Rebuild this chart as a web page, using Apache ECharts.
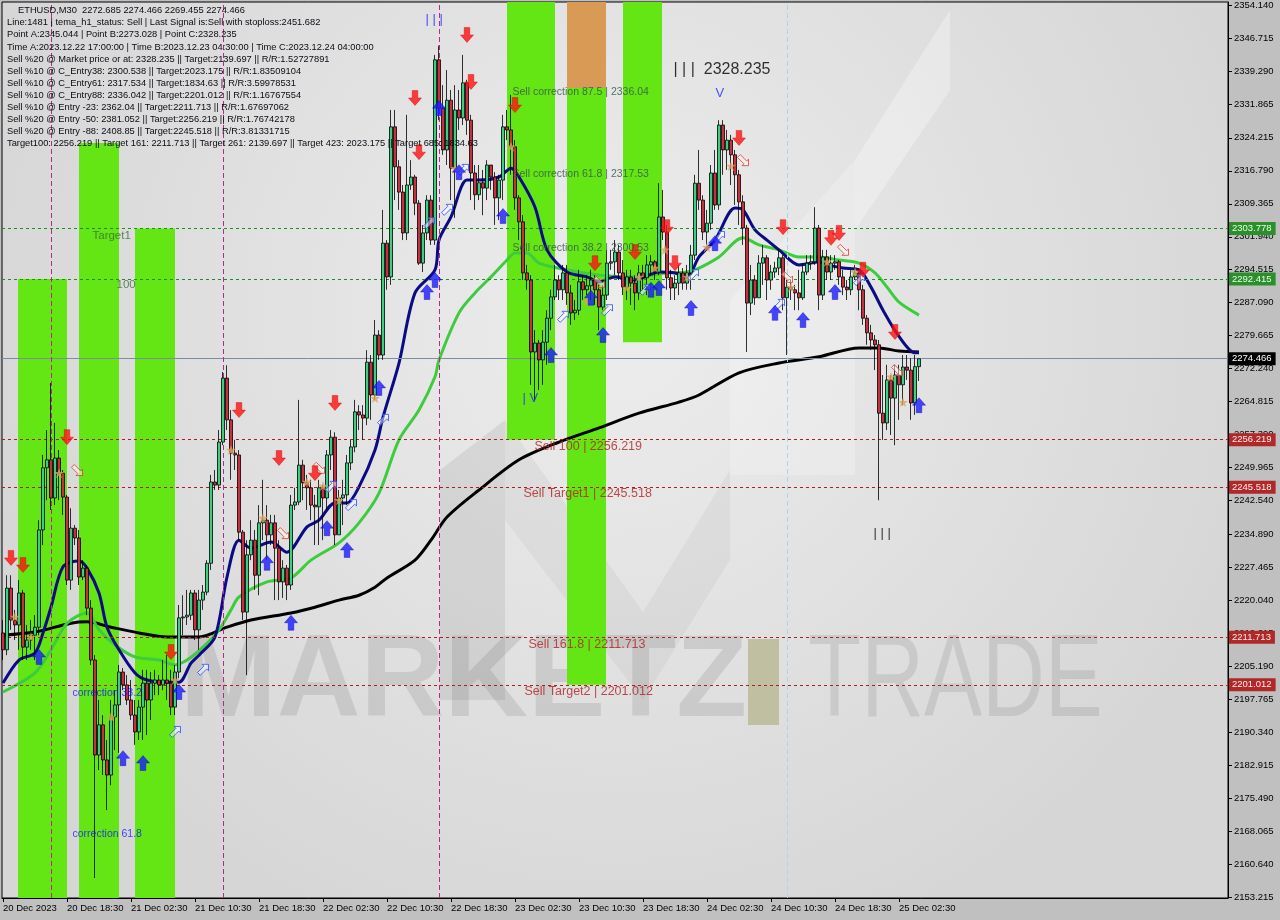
<!DOCTYPE html>
<html><head><meta charset="utf-8">
<script src="https://cdn.jsdelivr.net/npm/echarts@6/dist/echarts.min.js"></script>
<style>html,body{margin:0;padding:0;background:#c0c0c0}#c{width:1280px;height:920px}</style>
</head><body><div id="c"></div>
<script>
// ---------- DATA ----------
const firstOpen = 2212.7;
const closes = [2208.9,2222.8,2215.6,2214.5,2221.7,2209.5,2211.1,2212.2,2214.0,2235.9,
2249.9,2251.7,2243.1,2252.1,2248.7,2243.3,2224.6,2236.3,2234.1,2225.3,
2227.3,2218.3,2206.6,2185.2,2192.0,2184.1,2180.7,2193.8,2196.5,2203.9,
2201.0,2197.6,2194.2,2190.4,2196.0,2201.4,2197.6,2201.4,2202.1,2201.0,
2202.1,2201.4,2196.0,2203.9,2216.1,2216.3,2216.7,2221.7,2213.4,2220.1,
2221.9,2228.4,2246.7,2246.0,2255.7,2270.1,2260.7,2253.2,2252.8,2235.4,
2217.4,2230.3,2233.6,2225.7,2237.5,2238.1,2234.8,2237.5,2231.8,2224.2,
2227.3,2223.5,2241.5,2242.2,2250.5,2246.5,2245.4,2241.5,2241.1,2245.4,
2243.1,2252.8,2256.8,2234.8,2243.1,2243.8,2251.0,2254.6,2262.5,2261.8,
2261.1,2273.7,2266.3,2279.8,2275.3,2300.5,2292.9,2326.7,2317.7,2312.0,
2302.8,2313.6,2315.4,2309.5,2296.0,2302.8,2310.2,2301.2,2341.8,2330.9,
2321.5,2332.7,2317.4,2330.5,2328.7,2336.6,2328.2,2316.3,2311.4,2314.1,
2312.9,2318.1,2315.4,2310.7,2314.7,2326.7,2326.0,2322.2,2310.7,2305.3,
2293.8,2292.2,2276.0,2278.0,2274.2,2278.2,2283.6,2288.4,2292.2,2290.0,
2293.8,2289.3,2284.8,2285.4,2291.8,2290.0,2290.9,2292.2,2290.0,2286.1,
2288.8,2296.0,2296.3,2298.5,2293.8,2290.6,2292.9,2291.5,2289.3,2293.8,
2292.7,2295.6,2296.3,2294.0,2306.4,2303.0,2292.7,2290.4,2291.5,2293.8,
2291.5,2293.8,2297.8,2314.0,2310.2,2303.0,2305.0,2316.3,2309.1,2327.1,
2321.5,2323.7,2320.4,2315.9,2309.8,2303.9,2287.0,2292.2,2288.2,2296.0,
2297.2,2292.2,2294.0,2294.9,2297.2,2288.2,2290.6,2290.0,2289.3,2288.2,
2294.0,2296.0,2296.3,2303.9,2288.8,2297.4,2294.0,2296.0,2296.3,2292.9,
2290.6,2290.0,2292.9,2293.8,2290.0,2283.6,2280.3,2278.7,2277.6,2262.2,
2260.0,2269.7,2265.6,2270.8,2268.6,2272.6,2271.9,2264.5,2272.685,2274.466];
const highs = [2215.6,2225.7,2225.7,2217.9,2224.6,2222.4,2214.5,2215.6,2216.7,2238.1,
2252.8,2258.4,2269.0,2260.0,2253.9,2249.4,2243.8,2240.8,2237.0,2235.9,
2229.1,2228.0,2220.1,2207.7,2197.6,2194.2,2188.6,2197.6,2199.8,2205.5,
2204.8,2203.2,2202.1,2197.6,2197.6,2204.4,2204.4,2203.9,2204.4,2203.2,
2206.6,2207.7,2204.4,2205.5,2219.0,2221.2,2222.4,2222.4,2222.4,2222.4,
2223.5,2229.1,2248.3,2249.4,2258.4,2271.5,2273.0,2262.9,2256.2,2253.9,
2235.9,2233.6,2238.1,2235.9,2241.5,2247.2,2241.5,2239.3,2239.3,2233.6,
2229.1,2228.0,2243.8,2245.4,2265.2,2251.7,2248.3,2247.2,2243.8,2247.2,
2246.0,2253.9,2258.4,2257.9,2244.9,2247.2,2252.8,2256.2,2265.2,2264.0,
2264.0,2276.4,2275.3,2283.2,2280.9,2308.0,2301.2,2330.5,2330.5,2319.2,
2313.6,2329.4,2319.2,2315.9,2310.2,2304.6,2311.3,2311.3,2342.9,2345.0,
2336.1,2339.5,2335.0,2336.1,2335.0,2342.9,2337.3,2329.4,2318.1,2318.1,
2317.0,2319.2,2318.1,2316.5,2315.9,2329.4,2330.5,2333.9,2323.7,2311.3,
2306.8,2295.6,2293.3,2280.9,2278.7,2280.9,2285.4,2290.0,2295.6,2293.3,
2295.6,2295.6,2291.1,2287.7,2294.5,2293.3,2293.3,2294.5,2293.3,2291.1,
2291.1,2299.0,2299.0,2301.2,2300.1,2296.7,2294.5,2294.5,2293.3,2295.6,
2295.6,2297.8,2297.8,2296.7,2314.0,2312.5,2304.6,2294.5,2293.3,2295.6,
2294.9,2295.6,2300.1,2315.9,2321.5,2311.3,2308.0,2318.1,2321.5,2328.2,
2328.2,2326.0,2324.9,2321.5,2317.0,2311.3,2304.6,2295.6,2293.3,2297.8,
2300.1,2297.8,2295.6,2296.3,2299.0,2297.8,2292.2,2292.2,2291.1,2294.5,
2295.6,2297.8,2297.8,2308.6,2304.6,2299.0,2299.0,2297.8,2297.8,2296.7,
2294.5,2292.2,2294.5,2295.6,2294.9,2291.1,2284.3,2282.1,2279.8,2278.7,
2270.8,2273.1,2270.8,2273.1,2273.1,2275.3,2275.3,2274.6,2275.3,2274.466];
const lows = [2206.6,2207.7,2213.4,2211.1,2208.9,2206.6,2206.6,2208.9,2206.6,2212.2,
2232.5,2242.6,2240.4,2241.5,2242.6,2239.3,2223.5,2222.4,2232.5,2223.5,
2224.6,2216.7,2205.5,2157.5,2181.8,2180.7,2172.8,2178.4,2186.3,2185.7,
2199.8,2196.5,2193.1,2187.5,2188.6,2188.6,2189.7,2193.1,2198.7,2198.7,
2199.8,2197.6,2194.2,2194.2,2202.5,2212.2,2214.5,2215.6,2211.1,2208.9,
2217.9,2221.2,2226.9,2244.9,2244.9,2255.0,2258.4,2247.2,2249.4,2233.6,
2215.6,2203.2,2229.1,2222.4,2221.2,2233.6,2229.1,2232.5,2220.1,2220.1,
2220.6,2220.1,2222.4,2240.4,2241.5,2242.6,2240.4,2238.1,2232.5,2232.5,
2233.6,2240.4,2249.4,2232.5,2234.8,2237.0,2241.5,2249.4,2253.4,2258.4,
2256.2,2259.5,2260.7,2265.2,2274.2,2274.2,2290.0,2291.1,2310.2,2308.0,
2301.2,2301.2,2312.5,2306.8,2295.6,2294.0,2301.2,2300.1,2300.1,2328.2,
2320.4,2318.1,2310.2,2306.2,2326.0,2327.1,2324.9,2310.2,2308.0,2310.2,
2306.8,2310.2,2312.5,2304.6,2305.7,2310.2,2323.7,2315.9,2308.0,2301.2,
2292.2,2290.0,2268.6,2265.2,2267.4,2268.6,2273.1,2280.9,2287.7,2287.7,
2287.7,2286.6,2282.1,2283.2,2284.3,2287.7,2288.8,2287.7,2286.6,2280.9,
2285.4,2287.7,2294.5,2293.3,2292.2,2288.8,2287.7,2286.6,2285.4,2287.7,
2290.0,2288.8,2293.3,2292.2,2293.3,2301.2,2290.0,2287.7,2287.7,2288.8,
2290.0,2290.0,2290.0,2296.7,2308.0,2301.2,2300.1,2303.5,2308.0,2308.0,
2315.9,2317.0,2313.6,2309.1,2304.6,2300.1,2276.0,2284.3,2286.6,2291.5,
2291.1,2287.7,2290.0,2292.7,2293.3,2285.4,2275.3,2287.7,2285.4,2285.4,
2287.7,2293.3,2294.5,2295.6,2285.4,2287.7,2292.2,2292.2,2294.5,2291.1,
2288.8,2287.7,2288.8,2292.2,2285.4,2282.1,2277.6,2276.4,2271.9,2242.6,
2256.2,2258.4,2257.3,2255.0,2260.7,2264.0,2269.7,2260.7,2261.8,2269.455];

// moving averages (bar index, price)
const maBlackBars = [0,8,17,21,27,34,41,49,56,62,72,78,84,89,93,96,103,107,111,119,129,139,149,159,169,174,184,194,204,214,219,224,229];
const maBlackVals = [2212.2,2212.9,2214.9,2215.2,2214.0,2212.7,2211.8,2211.8,2214.0,2215.6,2217.2,2218.5,2220.1,2221.2,2223.0,2225.1,2229.1,2233.6,2238.8,2244.9,2251.7,2255.7,2258.9,2262.2,2264.7,2266.3,2271.3,2273.5,2274.9,2276.9,2276.9,2276.2,2276.0];
const maGreenBars = [0,8,12,16,21,24,28,33,39,43,46,50,54,57,59,66,72,77,84,89,94,99,104,108,109,114,118,122,126,128,131,134,141,149,158,166,171,174,179,185,189,194,199,204,209,214,218,221,224,229];
const maGreenVals = [2199.4,2203.7,2208.9,2214.9,2217.2,2213.4,2210.0,2207.3,2206.6,2205.5,2206.6,2209.5,2213.4,2217.9,2220.8,2224.2,2225.1,2229.1,2233.0,2237.5,2244.2,2256.2,2262.9,2270.4,2274.2,2284.8,2289.3,2292.9,2296.7,2298.3,2298.3,2296.0,2294.5,2293.3,2292.9,2293.8,2294.0,2294.9,2297.4,2301.7,2300.1,2299.0,2297.4,2297.4,2296.7,2296.0,2293.8,2290.6,2287.2,2284.3];
const maBlueBars = [0,4,8,10,12,15,19,21,24,26,29,33,36,41,44,47,49,53,56,59,62,67,71,76,79,83,86,89,93,95,99,103,108,109,112,116,119,124,127,129,133,136,141,146,149,153,158,164,168,171,174,178,183,185,188,191,194,199,202,204,206,210,214,217,220,224,228,229];
const maBlueVals = [2201.4,2206.6,2208.2,2212.7,2218.5,2227.6,2228.9,2227.3,2221.7,2214.0,2208.9,2203.7,2202.1,2201.6,2201.6,2205.9,2207.7,2211.8,2225.3,2233.6,2231.8,2233.2,2230.9,2236.6,2238.1,2242.0,2242.0,2245.6,2253.9,2261.3,2273.5,2289.3,2294.5,2301.2,2306.4,2314.7,2314.7,2315.4,2317.4,2315.4,2308.6,2299.0,2294.0,2292.9,2291.8,2292.9,2292.2,2294.0,2293.8,2292.9,2297.4,2301.2,2308.4,2308.0,2303.5,2301.2,2299.0,2295.6,2296.0,2296.3,2295.6,2294.9,2294.5,2290.6,2285.4,2279.5,2275.8,2275.8];

// axis ticks
const xTickBars = [0,16,32,48,64,80,96,112,128,144,160,176,192,208,224];
const xTickLabels = ['20 Dec 2023','20 Dec 18:30','21 Dec 02:30','21 Dec 10:30','21 Dec 18:30','22 Dec 02:30','22 Dec 10:30','22 Dec 18:30','23 Dec 02:30','23 Dec 10:30','23 Dec 18:30','24 Dec 02:30','24 Dec 10:30','24 Dec 18:30','25 Dec 02:30'];
const yTickValues = [2354.140,2346.715,2339.290,2331.865,2324.215,2316.790,2309.365,2301.940,2294.515,2287.090,2279.665,2272.240,2264.815,2257.390,2249.965,2242.540,2234.890,2227.465,2220.040,2212.615,2205.190,2197.765,2190.340,2182.915,2175.490,2168.065,2160.640,2153.215];
const yMin = 2153.0, yMax = 2354.82;

// horizontal levels
const greenLevels = [2303.778, 2292.415];
const redLevels = [2256.219, 2245.518, 2211.713, 2201.012];
const lastPrice = 2274.466;
const vLinesMagenta = [12, 55, 109];
const vLinesCyan = [196];

// zones: [barFrom, barTo, priceTop, priceBottom]
const greenZones = [[3.75,16,2292.415,yMin],[19,29,2323.06,yMin],[33,43,2303.778,yMin],
  [126,138,yMax,2256.219],[141,150.75,2335.45,2201.012],[155,164.75,yMax,2278.2]];
const orangeZones = [[141,150.75,yMax,2335.45]];

// signals [bar, price]
const sellArrows = [[2,2229.6],[5,2228.0],[16,2256.8],[42,2208.4],[59,2262.9],[69,2252.1],[78,2248.7],[83,2264.5],[103,2333.2],[104,2321.0],[116,2347.4],[117,2336.8],[128,2331.6],[148,2296.0],[158,2298.5],[166,2304.1],[168,2296.0],[184,2324.2],[195,2304.1],[207,2301.7],[209,2302.8],[215,2294.5],[223,2280.5]];
const buyArrows = [[9,2207.3],[30,2184.5],[35,2183.4],[44,2199.4],[66,2228.5],[72,2215.0],[81,2236.3],[86,2231.4],[94,2267.9],[106,2289.5],[108,2292.2],[109,2330.9],[114,2316.5],[125,2306.6],[137,2275.3],[147,2288.2],[150,2279.8],[162,2290.0],[164,2290.4],[172,2285.9],[178,2300.5],[193,2284.8],[200,2283.2],[208,2289.5],[229,2264.0]];
const stars = [[3,2216.3],[7,2211.8],[14,2248.7],[27,2193.8],[43,2202.1],[57,2253.9],[65,2238.6],[76,2246.7],[80,2245.8],[84,2242.6],[93,2265.6],[113,2317.4],[127,2322.2],[146,2287.3],[156,2290.4],[159,2292.9],[163,2294.9],[165.5,2299.0],[171,2292.9],[176,2299.6],[182,2317.9],[197,2290.6],[206,2296.3],[213,2294.0],[222,2270.4],[225,2264.7]];
const hollowSell = [[18.5,2249.4],[70,2235.2],[79,2249.9],[149,2291.8],[185,2319.2],[196,2292.9],[210,2299.0],[223.5,2271.9]];
const hollowBuy = [[43,2190.4],[50,2204.4],[82,2245.6],[87,2241.5],[95,2260.7],[106.5,2305.0],[111,2308.0],[115,2317.0],[140,2283.9],[151,2285.4],[160.5,2290.0],[172.5,2293.3],[179,2301.9],[194,2286.6],[214,2292.2]];

// chart texts
const chartTexts = ['Sell correction 87.5 | 2336.04','Sell correction 61.8 | 2317.53','Sell correction 38.2 | 2300.53',
  'Sell 100 | 2256.219','Sell Target1 | 2245.518','Sell 161.8 | 2211.713','Sell Target2 | 2201.012',
  'Target1','100','correction 38.2','correction 61.8','| | |  2328.235','V','| | |','| V','| | |'];
const chartTextBars = [127.25,127.25,127.25,132.75,130,131.25,130.25,22.25,28.25,17.25,17.25,167.5,178,105.5,129.75,217.5];
const chartTextPrices = [2334.55,2316.1,2299.4,2254.6,2244.0,2210.2,2199.4,2302.1,2291.1,2199.2,2167.4,2339.7,2334.3,2350.8,2265.6,2235.2];

const headerLines = ['ETHUSD,M30  2272.685 2274.466 2269.455 2274.466',
'Line:1481 | tema_h1_status: Sell | Last Signal is:Sell with stoploss:2451.682',
'Point A:2345.044 | Point B:2273.028 | Point C:2328.235',
'Time A:2023.12.22 17:00:00 | Time B:2023.12.23 04:30:00 | Time C:2023.12.24 04:00:00',
'Sell %20 @ Market price or at: 2328.235 || Target:2139.697 || R/R:1.52727891',
'Sell %10 @ C_Entry38: 2300.538 || Target:2023.175 || R/R:1.83509104',
'Sell %10 @ C_Entry61: 2317.534 || Target:1834.63 || R/R:3.59978531',
'Sell %10 @ C_Entry88: 2336.042 || Target:2201.012 || R/R:1.16767554',
'Sell %10 @ Entry -23: 2362.04 || Target:2211.713 || R/R:1.67697062',
'Sell %20 @ Entry -50: 2381.052 || Target:2256.219 || R/R:1.76742178',
'Sell %20 @ Entry -88: 2408.85 || Target:2245.518 || R/R:3.81331715',
'Target100: 2256.219 || Target 161: 2211.713 || Target 261: 2139.697 || Target 423: 2023.175 || Target 685: 1834.63'];

// ---------- BUILD ----------
const FONT = 'Liberation Sans';
const candles = closes.map((c, i) => {
  const o = i === 0 ? firstOpen : closes[i - 1];
  return [i, o, c, Math.min(lows[i], o, c), Math.max(highs[i], o, c)];
});
const pairs = (b, v) => b.map((x, k) => [x, v[k]]);

const textStyles = [
  ['#34504a',10.5],['#34504a',10.5],['#34504a',10.5],
  ['#b22222',12.5],['#b22222',12.5],['#b22222',12.5],['#b22222',12.5],
  ['#3c6a3c',11.5],['#3c6a3c',11.5],['#1414ff',10.5],['#1414ff',10.5],
  ['#000000',16],['#2626ff',13],['#2626ff',13],['#2626ff',13],['#000000',13]];

const ARROW_DOWN = 'path://M4,0L10,0L10,8L14,8L7,16L0,8L4,8Z';
const ARROW_UP = 'path://M7,0L14,8L10,8L10,16L4,16L4,8L0,8Z';
const STAR = 'path://M5,0L6.2,3.8L10,3.8L7,6.2L8.1,10L5,7.6L1.9,10L3,6.2L0,3.8L3.8,3.8Z';
const HOLLOW = 'path://M3,0L10,7L12,5L12,12L5,12L7,10L0,3Z';

const hLineData = [];
greenLevels.forEach(v => hLineData.push({yAxis: v,
  lineStyle: {color: '#1f8f1f', type: [3, 3], width: 1},
  label: {show: true, position: 'end', distance: 1, formatter: v.toFixed(3), backgroundColor: '#2b8f2b', color: '#e6ffe6', padding: [2, 4, 1, 3], fontSize: 9.5, fontFamily: FONT}}));
redLevels.forEach(v => hLineData.push({yAxis: v,
  lineStyle: {color: '#a82020', type: [3, 3], width: 1},
  label: {show: true, position: 'end', distance: 1, formatter: v.toFixed(3), backgroundColor: '#b02828', color: '#ffecec', padding: [2, 4, 1, 3], fontSize: 9.5, fontFamily: FONT}}));
hLineData.push({yAxis: lastPrice,
  lineStyle: {color: '#7d8da0', type: 'solid', width: 1},
  label: {show: true, position: 'end', distance: 1, formatter: lastPrice.toFixed(3), backgroundColor: '#000', color: '#fff', padding: [2, 4, 1, 3], fontSize: 9.5, fontFamily: FONT}});
vLinesMagenta.forEach(b => hLineData.push({xAxis: b, lineStyle: {color: '#b8288a', type: [5, 3], width: 1}, label: {show: false}}));
vLinesCyan.forEach(b => hLineData.push({xAxis: b, lineStyle: {color: '#a8d8e0', type: [5, 3], width: 1}, label: {show: false}}));

const zoneData = [];
greenZones.forEach(z => zoneData.push([{xAxis: z[0], yAxis: z[2], itemStyle: {color: '#64e614'}}, {xAxis: z[1], yAxis: z[3]}]));
orangeZones.forEach(z => zoneData.push([{xAxis: z[0], yAxis: z[2], itemStyle: {color: '#d99a55'}}, {xAxis: z[1], yAxis: z[3]}]));

const graphics = [];
// faint logo shapes
graphics.push({type: 'polygon', z: 1, silent: true, shape: {points: [[440,470],[505,420],[505,700],[440,700]]}, style: {fill: 'rgba(0,0,0,0.07)'}});
graphics.push({type: 'polygon', z: 1, silent: true, shape: {points: [[505,420],[643,612],[730,470],[730,560],[643,700],[505,520]]}, style: {fill: 'rgba(0,0,0,0.04)'}});
graphics.push({type: 'polygon', z: 1, silent: true, shape: {points: [[730,300],[855,160],[855,475],[730,475]]}, style: {fill: 'rgba(255,255,255,0.22)'}});
graphics.push({type: 'polygon', z: 1, silent: true, shape: {points: [[855,160],[950,10],[950,90],[855,230]]}, style: {fill: 'rgba(255,255,255,0.3)'}});
// watermark text
graphics.push({type: 'text', z: 1, silent: true, x: 180, y: 684, style: {text: 'MARKETZ', font: 'bold 116px "Liberation Sans"', fill: 'rgba(60,60,60,0.13)', verticalAlign: 'middle', align: 'left'}});
graphics.push({type: 'rect', z: 1, silent: true, shape: {x: 748, y: 639, width: 31, height: 86}, style: {fill: '#c0bfa2'}});
graphics.push({type: 'text', z: 1, silent: true, x: 808, y: 684, scaleX: 0.75, style: {text: 'TRADE', font: '116px "Liberation Sans"', fill: 'rgba(60,60,60,0.12)', verticalAlign: 'middle', align: 'left'}});
// header
headerLines.forEach((t, k) => graphics.push({type: 'text', z: 100, silent: true, x: k === 0 ? 18 : 7, y: 10.7 + k * 12.1,
  style: {text: t, font: '9.3px "Liberation Sans"', fill: '#0a0a14', verticalAlign: 'middle', align: 'left'}}));

const option = {
  animation: false,
  backgroundColor: '#c0c0c0',
  textStyle: {fontFamily: FONT},
  grid: {left: 2, right: 52, top: 2, bottom: 22, show: true, borderColor: '#000', borderWidth: 1,
    backgroundColor: {type: 'radial', x: 0.5, y: 0.35, r: 0.75, colorStops: [{offset: 0, color: '#ededed'}, {offset: 1, color: '#d6d6d6'}]}},
  xAxis: {type: 'value', min: -0.25, max: 306.25, splitLine: {show: false},
    axisLine: {show: true, onZero: false, lineStyle: {color: '#000'}},
    axisTick: {show: true, length: 4, customValues: xTickBars, lineStyle: {color: '#000'}},
    axisLabel: {customValues: xTickBars, align: 'left', margin: 5, fontSize: 9.5, color: '#000', fontFamily: FONT,
      formatter: v => { const k = xTickBars.indexOf(Math.round(v)); return k >= 0 ? xTickLabels[k] : ''; }}},
  yAxis: {type: 'value', position: 'right', min: yMin, max: yMax, splitLine: {show: false},
    axisLine: {show: true, onZero: false, lineStyle: {color: '#000'}},
    axisTick: {show: true, length: 4, customValues: yTickValues, lineStyle: {color: '#000'}},
    axisLabel: {customValues: yTickValues, margin: 6, fontSize: 9.5, color: '#000', fontFamily: FONT, formatter: v => v.toFixed(3)}},
  graphic: graphics,
  series: [
    {type: 'scatter', name: 'zones', z: 1, data: [], silent: true,
      markArea: {silent: true, data: zoneData}},
    {type: 'scatter', name: 'levels', z: 3, data: [], silent: true,
      markLine: {silent: true, symbol: ['none', 'none'], animation: false, data: hLineData}},
    {type: 'line', name: 'MA black', z: 4, data: pairs(maBlackBars, maBlackVals), smooth: 0.3, symbol: 'none', lineStyle: {color: '#000', width: 3}},
    {type: 'line', name: 'MA green', z: 4, data: pairs(maGreenBars, maGreenVals), smooth: 0.3, symbol: 'none', lineStyle: {color: '#3ccc3c', width: 3}},
    {type: 'line', name: 'MA blue', z: 4, data: pairs(maBlueBars, maBlueVals), smooth: 0.3, symbol: 'none', lineStyle: {color: '#0b0b86', width: 3}},
    {type: 'candlestick', name: 'ETHUSD', z: 5, barWidth: 3,
      dimensions: ['idx', 'open', 'close', 'lowest', 'highest'],
      encode: {x: 'idx', y: ['open', 'close', 'lowest', 'highest']},
      data: candles,
      itemStyle: {color: '#3dcf80', color0: '#c8303e', borderColor: '#000', borderColor0: '#000', borderWidth: 0.8}},
    {type: 'scatter', name: 'stars', z: 6, data: stars, symbol: STAR, symbolSize: 10, itemStyle: {color: '#d9a35c'}},
    {type: 'scatter', name: 'hollow sell', z: 6, data: hollowSell, symbol: HOLLOW, symbolSize: 11, symbolRotate: 0,
      itemStyle: {color: 'rgba(255,255,255,0.6)', borderColor: '#e03a2a', borderWidth: 1}},
    {type: 'scatter', name: 'hollow buy', z: 6, data: hollowBuy, symbol: HOLLOW, symbolSize: 11, symbolRotate: 90,
      itemStyle: {color: 'rgba(255,255,255,0.6)', borderColor: '#2a4cff', borderWidth: 1}},
    {type: 'scatter', name: 'sell', z: 7, data: sellArrows, symbol: ARROW_DOWN, symbolSize: [13, 15],
      itemStyle: {color: '#ff1010', borderColor: '#d00000', borderWidth: 0.5}},
    {type: 'scatter', name: 'buy', z: 7, data: buyArrows, symbol: ARROW_UP, symbolSize: [13, 15],
      itemStyle: {color: '#1a1aff', borderColor: '#0000c0', borderWidth: 0.5}},
    {type: 'scatter', name: 'texts', z: 8, silent: true, symbolSize: 1, itemStyle: {color: 'rgba(0,0,0,0)'},
      data: chartTexts.map((t, k) => ({value: [chartTextBars[k], chartTextPrices[k]],
        label: {show: true, position: 'right', distance: 0, formatter: t, color: textStyles[k][0], fontSize: textStyles[k][1], fontFamily: FONT}}))}
  ]
};
const chart = echarts.init(document.getElementById('c'), null, {renderer: 'canvas'});
chart.setOption(option);
</script></body></html>
